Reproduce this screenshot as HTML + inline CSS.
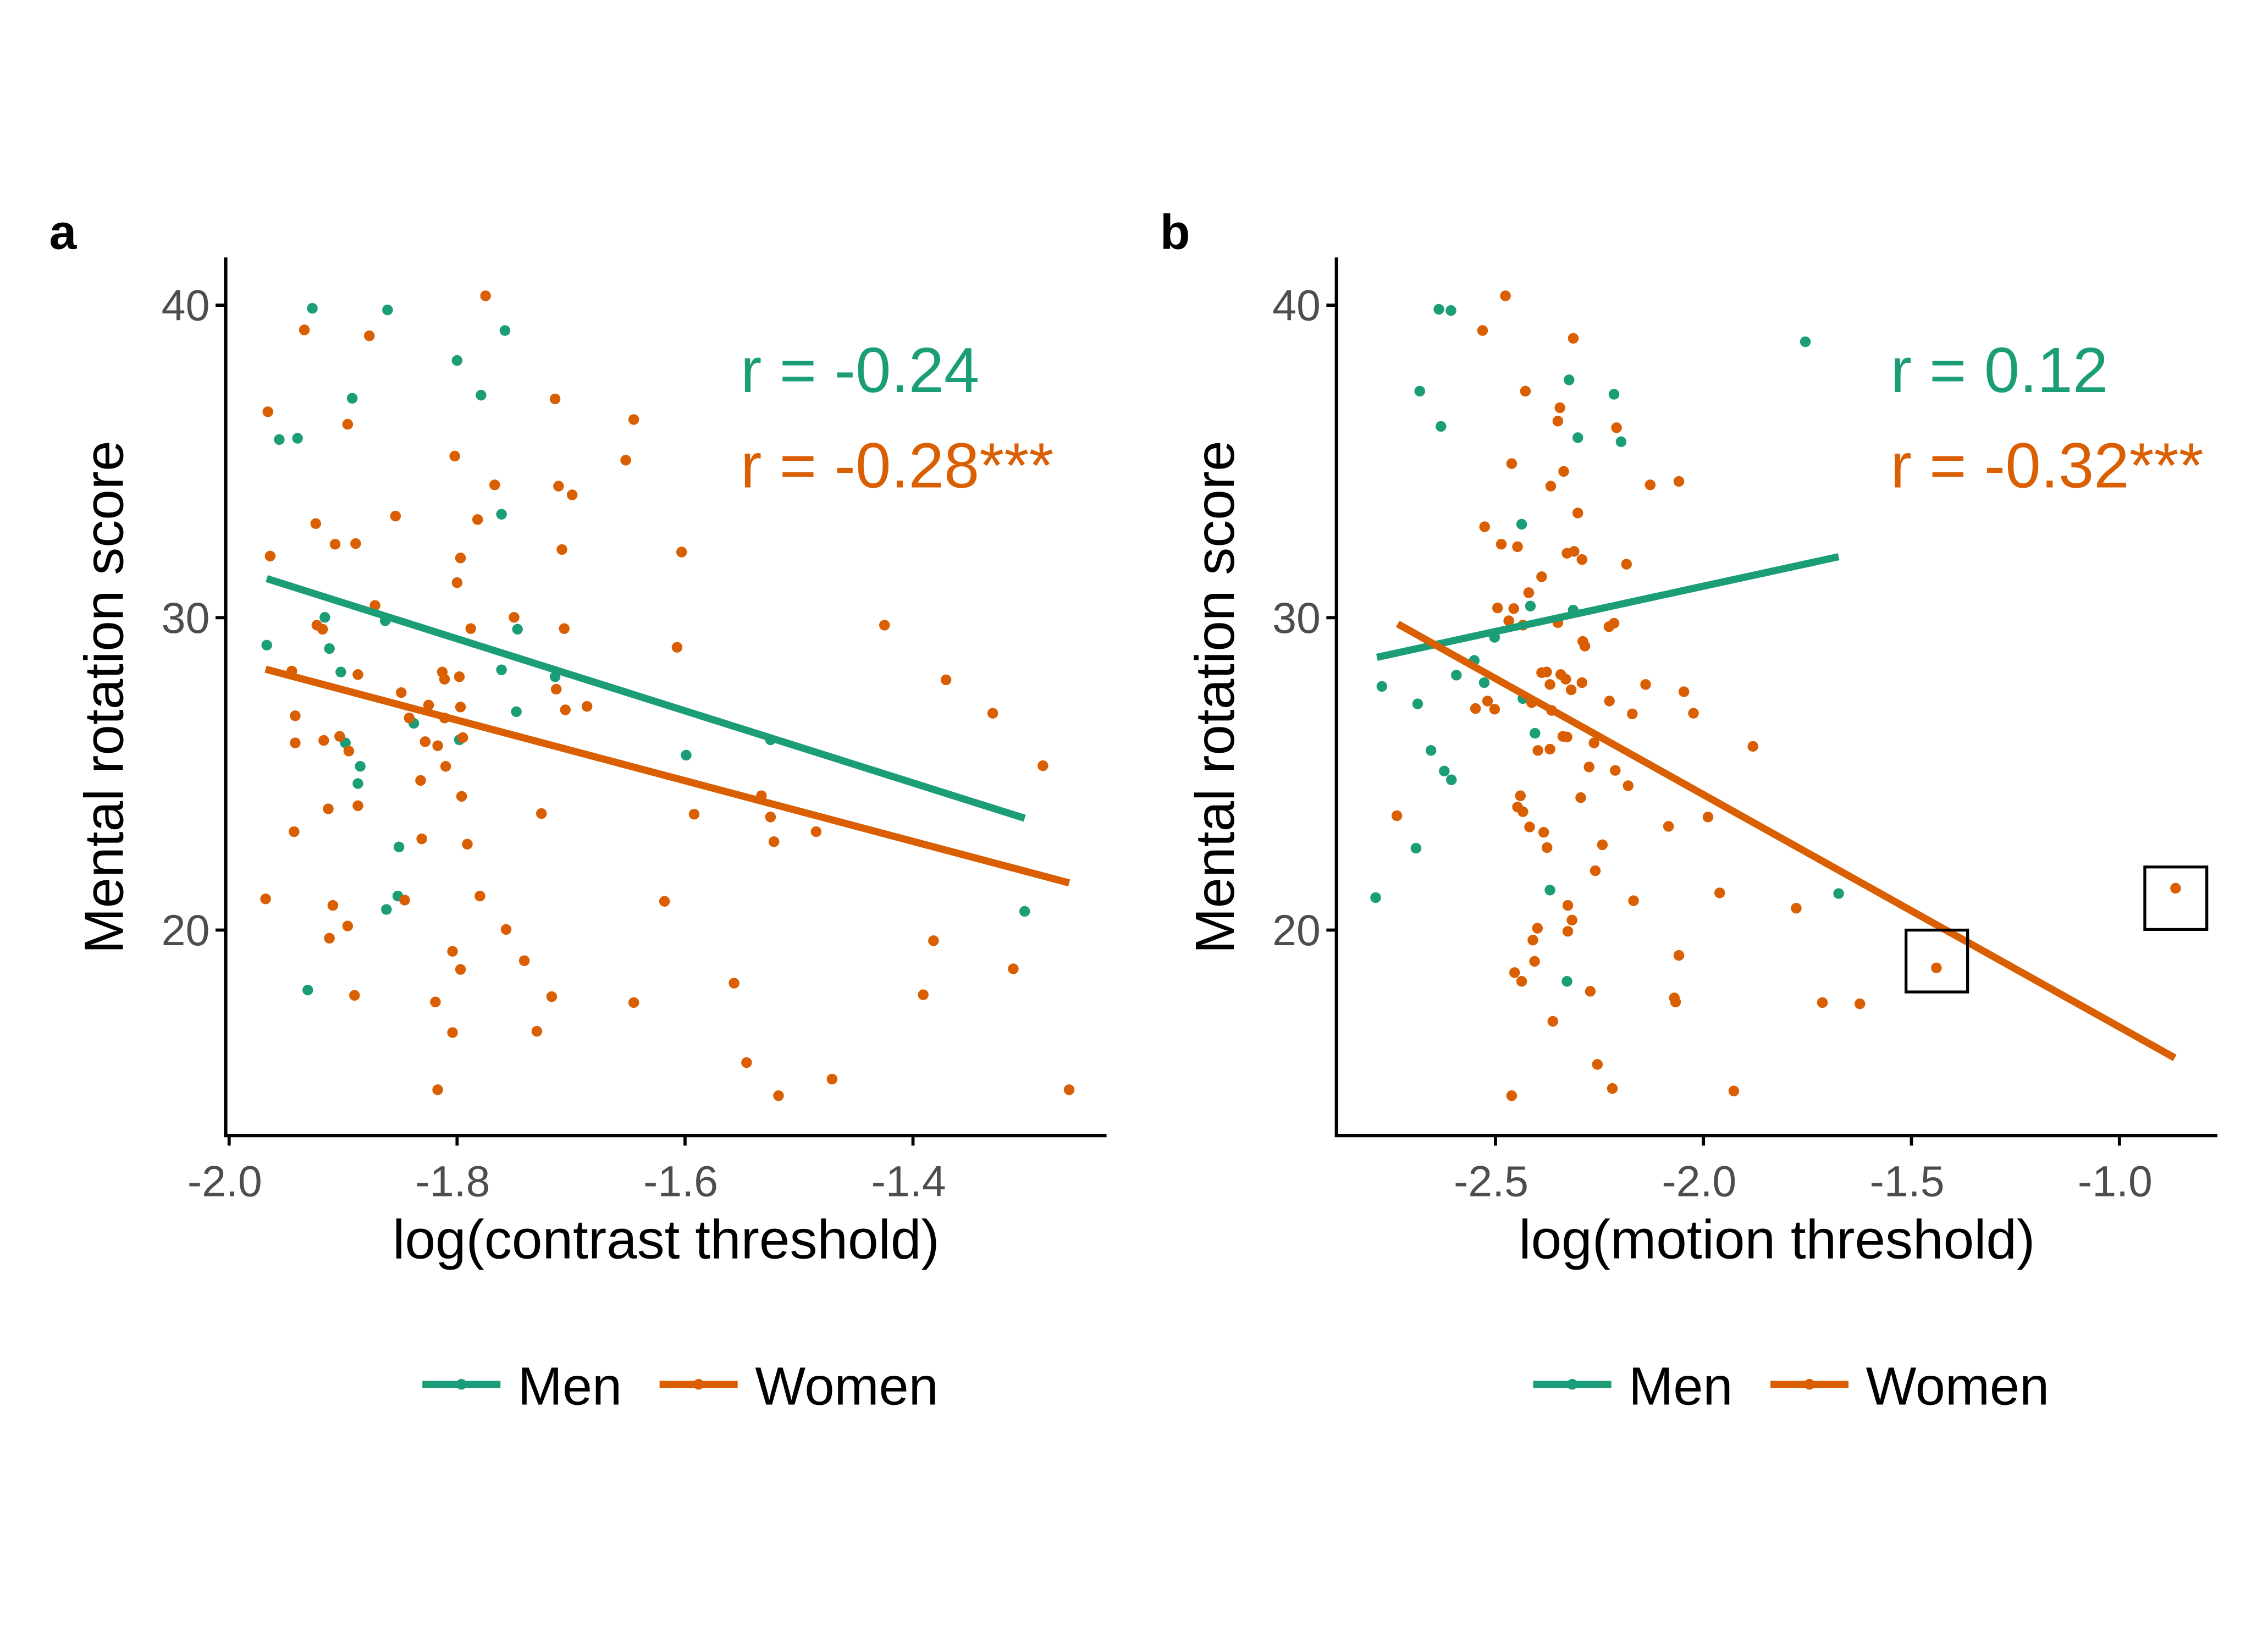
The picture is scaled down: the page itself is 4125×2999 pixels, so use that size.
<!DOCTYPE html>
<html><head><meta charset="utf-8"><style>
html,body{margin:0;padding:0;background:#fff}
svg{display:block}
text{font-family:"Liberation Sans",Arial,sans-serif}
</style></head><body>
<svg id="chart" width="4125" height="2999" viewBox="0 0 1568 1140" xmlns="http://www.w3.org/2000/svg">
<rect width="1568" height="1140" fill="#fff"/>
</svg>
<script>
// ---- Panel a data ----
const aMenX=[-1.927,-1.861,-1.758,-1.800,-1.892,-1.779,-1.956,-1.940,-1.761,-1.916,-1.863,-1.967,-1.912,-1.747,-1.902,-1.761,-1.714,-1.838,-1.748,-1.898,-1.798,-1.885,-1.887,-1.599,-1.525,-1.851,-1.852,-1.862,-1.931,-1.302];
const aMenY=[39.9,39.85,39.19,38.23,37.02,37.12,35.70,35.74,33.31,30.01,29.90,29.12,29.01,29.63,28.26,28.33,28.11,26.62,26.99,25.99,26.09,25.24,24.69,25.60,26.09,22.66,21.09,20.66,18.08,20.60];
const aWomX=[-1.775,-1.934,-1.877,-1.966,-1.896,-1.714,-1.645,-1.802,-1.652,-1.767,-1.711,-1.699,-1.854,-1.924,-1.782,-1.907,-1.889,-1.708,-1.603,-1.964,-1.797,-1.800,-1.872,-1.750,-1.923,-1.918,-1.788,-1.706,-1.607,-1.425,-1.945,-1.887,-1.813,-1.811,-1.798,-1.371,-1.849,-1.825,-1.713,-1.797,-1.705,-1.686,-1.942,-1.842,-1.811,-1.330,-1.917,-1.903,-1.942,-1.828,-1.817,-1.795,-1.895,-1.810,-1.286,-1.832,-1.796,-1.533,-1.887,-1.913,-1.726,-1.592,-1.525,-1.485,-1.943,-1.831,-1.522,-1.791,-1.968,-1.846,-1.780,-1.909,-1.618,-1.896,-1.757,-1.912,-1.382,-1.804,-1.797,-1.741,-1.312,-1.557,-1.890,-1.717,-1.819,-1.645,-1.391,-1.804,-1.730,-1.546,-1.471,-1.817,-1.518,-1.263];
const aWomY=[40.30,39.21,39.02,36.59,36.19,37.00,36.34,35.17,35.04,34.25,34.21,33.93,33.25,33.01,33.14,32.35,32.37,32.18,32.10,31.97,31.91,31.12,30.39,30.01,29.76,29.63,29.65,29.65,29.05,29.76,28.29,28.18,28.26,28.03,28.11,28.01,27.60,27.20,27.71,27.14,27.05,27.16,26.86,26.79,26.79,26.94,26.07,26.20,25.99,26.03,25.90,26.16,25.73,25.24,25.26,24.79,24.28,24.30,23.98,23.88,23.73,23.71,23.62,23.15,23.15,22.92,22.83,22.75,21.00,20.96,21.09,20.79,20.92,20.13,20.02,19.74,19.66,19.32,18.74,19.02,18.76,18.30,17.91,17.87,17.70,17.68,17.93,16.72,16.76,15.76,15.23,14.89,14.70,14.89];
const aMenFit=[[-1.967,31.25],[-1.302,23.58]];
const aWomFit=[[-1.968,28.35],[-1.263,21.51]];
const aTicksX=[-2.0,-1.8,-1.6,-1.4];
const aTickLabelsX=["-2.0","-1.8","-1.6","-1.4"];
// ---- Panel b data ----
const bMenX=[-2.636,-2.607,-2.682,-2.631,-2.323,-2.215,-2.302,-2.198,-1.755,-2.437,-2.416,-2.313,-2.502,-2.551,-2.773,-2.594,-2.527,-2.687,-2.434,-2.405,-2.655,-2.623,-2.606,-2.691,-2.788,-2.369,-1.675,-2.328];
const bMenY=[39.87,39.83,37.25,36.12,37.61,37.15,35.76,35.63,38.83,32.99,30.37,30.24,29.37,28.63,27.80,28.16,27.92,27.24,27.41,26.30,25.75,25.09,24.81,22.62,21.04,21.28,21.17,18.36];
const bWomX=[-2.476,-2.531,-2.313,-2.428,-2.345,-2.350,-2.209,-2.461,-2.336,-2.367,-2.128,-2.059,-2.302,-2.526,-2.486,-2.447,-2.328,-2.311,-2.292,-2.185,-2.389,-2.420,-2.495,-2.456,-2.468,-2.434,-2.350,-2.227,-2.215,-2.290,-2.285,-2.389,-2.377,-2.343,-2.331,-2.292,-2.369,-2.318,-2.139,-2.047,-2.519,-2.226,-2.548,-2.502,-2.413,-2.365,-2.171,-2.024,-2.338,-2.328,-2.263,-2.398,-2.369,-1.881,-2.275,-2.212,-2.181,-2.295,-2.440,-2.447,-2.434,-2.737,-1.989,-2.418,-2.084,-2.384,-2.376,-2.243,-2.260,-1.961,-2.168,-1.777,-2.326,-2.316,-2.399,-2.326,-2.410,-2.406,-2.059,-1.440,-0.865,-2.454,-2.437,-2.272,-2.070,-2.067,-1.714,-1.624,-2.362,-2.255,-2.219,-2.461,-1.927];
const bWomY=[40.30,39.19,38.94,37.25,36.72,36.29,36.08,34.93,34.68,34.21,34.25,34.36,33.35,32.91,32.35,32.27,32.06,32.12,31.86,31.71,31.31,30.80,30.31,30.29,29.90,29.76,29.84,29.71,29.82,29.24,29.09,28.24,28.26,28.18,28.03,27.92,27.86,27.69,27.86,27.63,27.33,27.33,27.09,27.07,27.28,27.03,26.92,26.94,26.20,26.18,25.99,25.75,25.79,25.88,25.22,25.11,24.62,24.24,24.30,23.94,23.79,23.66,23.62,23.30,23.32,23.13,22.64,22.73,21.90,21.19,20.94,20.70,20.79,20.32,20.06,19.96,19.68,19.00,19.19,18.79,21.34,18.64,18.36,18.04,17.83,17.70,17.68,17.64,17.08,15.70,14.93,14.70,14.85];
const bMenFit=[[-2.785,28.73],[-1.675,31.95]];
const bWomFit=[[-2.735,29.80],[-0.867,15.91]];
const bTicksX=[-2.5,-2.0,-1.5,-1.0];
const bTickLabelsX=["-2.5","-2.0","-1.5","-1.0"];
const bBoxes=[[-1.513,-1.365,18.02,20.0],[-0.939,-0.790,20.02,22.02]];
const yTicks=[40,30,20];
const yTickLabels=["40","30","20"];

const GREEN="#1b9e77", ORANGE="#d95f02";
const svg=document.getElementById('chart');
const NS="http://www.w3.org/2000/svg";
function mk(tag,attrs,parent){const e=document.createElementNS(NS,tag);for(const k in attrs)e.setAttribute(k,attrs[k]);(parent||svg).appendChild(e);return e;}
const py=y=>211+(40-y)*21.6;

function panel(id,opt){
  const g=mk('g',{});
  
  
  const px=opt.px;
  const L=opt.left,R=opt.left+609;
  const t=mk('text',{x:opt.left-122,y:172,'font-size':34,'font-weight':'bold',fill:'#000'},g);t.textContent=id;
  
  
  const ax=mk('path',{d:`M${L},178 V785 H${R}`,stroke:'#000','stroke-width':2.4,fill:'none'},g);
  
  
  yTicks.forEach((v,i)=>{
    mk('line',{x1:L-7,x2:L,y1:py(v),y2:py(v),stroke:'#000','stroke-width':2.2},g);
    const tl=mk('text',{x:L-11,y:py(v)+10.5,'font-size':30,fill:'#4d4d4d','text-anchor':'end'},g);tl.textContent=yTickLabels[i];
    
    
  });
  opt.ticks.forEach((v,i)=>{
    mk('line',{x1:px(v),x2:px(v),y1:785,y2:792,stroke:'#000','stroke-width':2.2},g);
    const tl=mk('text',{x:px(v)-3,y:827,'font-size':30,fill:'#4d4d4d','text-anchor':'middle'},g);tl.textContent=opt.tickLabels[i];
    
    
  });
  const yt=mk('text',{transform:`translate(${L-71},482) rotate(-90)`,'font-size':38,fill:'#000','text-anchor':'middle'},g);yt.textContent='Mental rotation score';
  
  
  const xt=mk('text',{x:(L+R)/2,y:870,'font-size':38,fill:'#000','text-anchor':'middle'},g);xt.textContent=opt.xtitle;
  
  
  [[opt.mx,opt.my,GREEN,'men'],[opt.wx,opt.wy,ORANGE,'women']].forEach(([xs,ys,c,n])=>{
    xs.forEach((x,i)=>{
      const p=mk('circle',{cx:px(x),cy:py(ys[i]),r:3.7,fill:c},g);
      
      
    });
  });
  [[opt.mfit,GREEN,'men'],[opt.wfit,ORANGE,'women']].forEach(([f,c,n])=>{
    const l=mk('line',{x1:px(f[0][0]),y1:py(f[0][1]),x2:px(f[1][0]),y2:py(f[1][1]),stroke:c,'stroke-width':5},g);
    
    
  });
  (opt.boxes||[]).forEach(b=>{
    const r=mk('rect',{x:px(b[0]),y:py(b[3]),width:px(b[1])-px(b[0]),height:py(b[2])-py(b[3]),fill:'none',stroke:'#000','stroke-width':2},g);
    
    
  });
  const r1=mk('text',{x:opt.annX,y:271,'font-size':44,fill:GREEN},g);r1.textContent=opt.r1;
  
  
  const r2=mk('text',{x:opt.annX,y:337,'font-size':44,fill:ORANGE},g);r2.textContent=opt.r2;
  
  
  const lg=mk('g',{},g);
  
  
  const lx=opt.legX;
  [[0,GREEN,'Men'],[164,ORANGE,'Women']].forEach(([o,c,lab])=>{
    const e=mk('g',{},lg);
    
    
    mk('line',{x1:lx+o,x2:lx+o+54,y1:957,y2:957,stroke:c,'stroke-width':5},e);
    mk('circle',{cx:lx+o+27,cy:957,r:3.7,fill:c},e);
    const tx=mk('text',{x:lx+o+66,y:971,'font-size':37,fill:'#000'},e);tx.textContent=lab;
  });
}
panel('a',{left:156,px:x=>158.4+(x+2)*788,ticks:aTicksX,tickLabels:aTickLabelsX,xtitle:'log(contrast threshold)',mx:aMenX,my:aMenY,wx:aWomX,wy:aWomY,mfit:aMenFit,wfit:aWomFit,annX:512,r1:'r = -0.24',r2:'r = -0.28***',legX:292});
panel('b',{left:924,px:x=>1033.9+(x+2.5)*287.6,ticks:bTicksX,tickLabels:bTickLabelsX,xtitle:'log(motion threshold)',mx:bMenX,my:bMenY,wx:bWomX,wy:bWomY,mfit:bMenFit,wfit:bWomFit,boxes:bBoxes,annX:1307,r1:'r = 0.12',r2:'r = -0.32***',legX:1060});
</script>
</body></html>
